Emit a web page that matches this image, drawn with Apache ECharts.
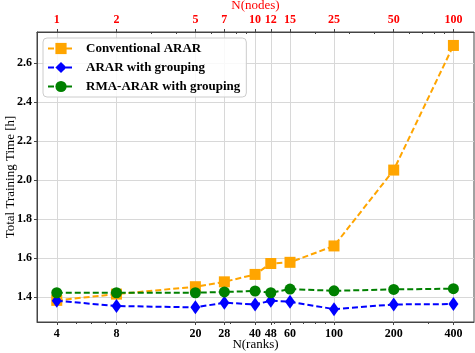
<!DOCTYPE html>
<html lang="en">
<head>
    <meta charset="UTF-8">
    <title>training-time</title>
    <script src="https://cdn.jsdelivr.net/npm/echarts@6/dist/echarts.min.js"></script>
    <style>
        html, body { margin: 0; padding: 0; background: #fff; }
        #chart { width: 475px; height: 353px; }
    </style>
</head>
<body>
<div id="chart"></div>
<script>
    // ranks on the bottom axis, nodes on the top axis (4 ranks per node)
    var ranks = [4, 8, 20, 28, 40, 48, 60, 100, 200, 400];
    var nodes = [1, 2, 5, 7, 10, 12, 15, 25, 50, 100];
    var minorRanks = [5, 6, 7, 9, 30, 50, 70, 80, 90, 300];
    var minorNodes = [3, 4, 6, 8, 9, 20, 30, 40, 60, 70, 80, 90];
    var yTicks = [1.4, 1.6, 1.8, 2.0, 2.2, 2.4, 2.6];

    var conventional = [1.383, 1.415, 1.453, 1.478, 1.516, 1.572, 1.578, 1.662, 2.051, 2.690];
    var grouping = [1.381, 1.354, 1.347, 1.371, 1.362, 1.381, 1.376, 1.338, 1.362, 1.364];
    var rmaGrouping = [1.422, 1.422, 1.422, 1.426, 1.431, 1.422, 1.441, 1.432, 1.439, 1.443];

    var chart = echarts.init(document.getElementById('chart'));
    var serif = 'Liberation Serif';
    var xMin = 3.18, xMax = 508;

    function pairs(vals) {
        return ranks.map(function (r, i) { return [r, vals[i]]; });
    }

    var dash = [6, 3];

    var options = {
        animation: false,
        textStyle: { fontFamily: serif },
        grid: {
            left: 37, right: 1, top: 32, bottom: 31, show: true,
            borderColor: '#444', borderWidth: 1,
            outerBoundsMode: 'none', containLabel: false
        },
        legend: {
            left: 43, top: 38, orient: 'vertical', itemGap: 6,
            itemWidth: 26, itemHeight: 14,
            padding: [4, 6, 4, 4],
            backgroundColor: 'rgba(255,255,255,0.85)',
            borderColor: '#ccc', borderWidth: 1, borderRadius: 4,
            textStyle: { fontFamily: serif, fontSize: 13, fontWeight: 'bold', color: '#000', padding: [0, 0, 0, 7] },
            data: ['Conventional ARAR', 'ARAR with grouping', 'RMA-ARAR with grouping']
        },
        xAxis: [
            {
                type: 'log', min: xMin, max: xMax, position: 'bottom',
                name: 'N(ranks)', nameLocation: 'middle', nameGap: 16, nameMoveOverlap: false,
                nameTextStyle: { fontFamily: serif, fontSize: 13, color: '#000' },
                axisLine: { onZero: false, lineStyle: { color: '#444' } },
                axisTick: { show: true, customValues: ranks, length: 3, inside: false, lineStyle: { color: '#444' } },
                axisLabel: { customValues: ranks, fontFamily: serif, fontSize: 12, fontWeight: 'bold', color: '#000', margin: 6 },
                splitLine: { show: true, lineStyle: { color: '#d8d8d8', width: 1 } },
                minorTick: { show: false }
            },
            {
                type: 'log', min: xMin / 4, max: xMax / 4, position: 'top',
                name: 'N(nodes)', nameLocation: 'middle', nameGap: 20, nameMoveOverlap: false,
                nameTextStyle: { fontFamily: serif, fontSize: 13, color: '#ff0000' },
                axisLine: { onZero: false, lineStyle: { color: '#444' } },
                axisTick: { show: true, customValues: nodes, length: 3, lineStyle: { color: '#444' } },
                axisLabel: { customValues: nodes, fontFamily: serif, fontSize: 12, fontWeight: 'bold', color: '#ff0000', margin: 6 },
                splitLine: { show: false }
            },
            {
                type: 'log', min: xMin, max: xMax, position: 'bottom',
                axisLine: { show: false, onZero: false },
                axisTick: { show: true, customValues: minorRanks, length: 2, lineStyle: { color: '#444' } },
                axisLabel: { show: false },
                splitLine: { show: false }
            },
            {
                type: 'log', min: xMin / 4, max: xMax / 4, position: 'top',
                axisLine: { show: false, onZero: false },
                axisTick: { show: true, customValues: minorNodes, length: 2, inside: true, lineStyle: { color: '#444' } },
                axisLabel: { show: false },
                splitLine: { show: false }
            }
        ],
        yAxis: {
            type: 'value', min: 1.272, max: 2.759,
            name: 'Total Training Time [h]', nameLocation: 'middle', nameGap: 20, nameMoveOverlap: false,
            nameTextStyle: { fontFamily: serif, fontSize: 13, color: '#000' },
            axisLine: { show: true, lineStyle: { color: '#444' } },
            axisTick: { show: true, customValues: yTicks, length: 3, lineStyle: { color: '#444' } },
            axisLabel: {
                customValues: yTicks, fontFamily: serif, fontSize: 12, fontWeight: 'bold', color: '#000', margin: 5,
                formatter: function (v) { return v.toFixed(1); }
            },
            splitLine: { show: true, lineStyle: { color: '#d8d8d8', width: 1 } }
        },
        series: [
            {
                name: 'Conventional ARAR', type: 'line', xAxisIndex: 0,
                data: pairs(conventional),
                symbol: 'rect', symbolSize: 11,
                itemStyle: { color: '#FFA500' },
                lineStyle: { color: '#FFA500', width: 2, type: dash },
                z: 3
            },
            {
                name: 'ARAR with grouping', type: 'line', xAxisIndex: 0,
                data: pairs(grouping),
                symbol: 'diamond', symbolSize: [10, 14],
                itemStyle: { color: '#0000FF' },
                lineStyle: { color: '#0000FF', width: 2, type: dash },
                z: 4
            },
            {
                name: 'RMA-ARAR with grouping', type: 'line', xAxisIndex: 0,
                data: pairs(rmaGrouping),
                symbol: 'circle', symbolSize: 11,
                itemStyle: { color: '#008000' },
                lineStyle: { color: '#008000', width: 2, type: dash },
                z: 5
            }
        ]
    };

    chart.setOption(options);
</script>
</body>
</html>
